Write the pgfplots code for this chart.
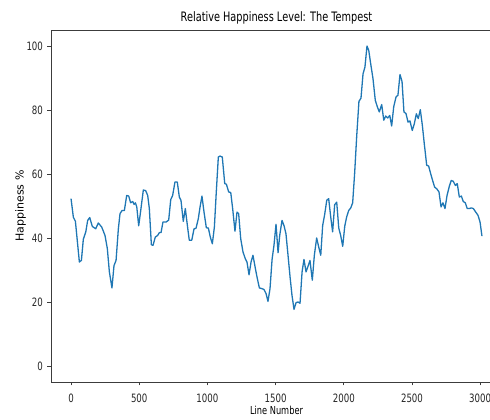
\documentclass[border=0pt]{standalone}
\usepackage{fontspec}
\usepackage{pgfplots}
\pgfplotsset{compat=1.18}
\setmainfont{DejaVu Sans}
\newfontfamily\sqz{DejaVu Sans}[FakeStretch=0.75]
\definecolor{mplblue}{RGB}{31,119,180}
\definecolor{spine}{RGB}{60,60,60}
\begin{document}
\begin{tikzpicture}
\begin{axis}[
  scale only axis,
  width=451pt, height=352pt,
  xmin=-147, xmax=3160,
  ymin=-5, ymax=105,
  xtick={0,500,1000,1500,2000,2500,3000},
  ytick={0,20,40,60,80,100},
  xtick pos=bottom, ytick pos=left,
  tick align=outside,
  major tick length=3.5pt,
  axis line style={spine, line width=0.8pt},
  every tick/.style={spine, line width=0.7pt},
  /pgf/number format/assume math mode=true,
  /pgf/number format/1000 sep={},
  ticklabel style={font=\sqz\fontsize{11.5}{13}\selectfont, text=black!85},
  xticklabel style={yshift=-5pt},
  yticklabel style={xshift=-1pt},
  title={Relative Happiness Level: The Tempest},
  title style={font=\sqz\fontsize{13}{15}\selectfont, at={(0.5,1)}, anchor=base, yshift=2pt},
  xlabel={Line Number},
  xlabel style={font=\sqz\fontsize{11}{13}\selectfont, at={(0.5,0)}, anchor=base, yshift=-33pt},
  ylabel={Happiness \%},
  ylabel style={font=\fontsize{11}{13}\selectfont, at={(axis description cs:-0.0676,0.5)}, anchor=center},
  clip=false,
]
\coordinate (sw) at (rel axis cs:0,0);
\coordinate (nw) at (rel axis cs:0,1);
\addplot[mplblue, line width=1.3pt, line join=round] coordinates {
(0,52.3) (17,46.5) (32,45.2) (61,32.5) (76,33) (90,39.6) (108,41.9) (122,45.5) (137,46.4) (156,43.6)
(181,42.9) (200,44.7) (225,43.4) (249,40.8) (266,36.7) (281,29.4) (300,24.4) (315,31.4) (330,33) (347,42.9)
(359,47.6) (374,48.6) (391,48.6) (408,53.3) (423,53.1) (437,51) (452,51.4) (462,50.5) (472,51) (482,49.7)
(496,43.8) (511,48.6) (530,55) (547,54.8) (562,53.3) (574,49.2) (589,37.9) (601,37.7) (618,40.3) (635,40.8)
(648,41.7) (660,41.7) (674,45) (697,45) (716,45.6) (731,52) (745,53.3) (762,57.5) (779,57.5) (794,52.8)
(806,51.8) (823,45.2) (838,49.2) (853,43.9) (867,39.3) (885,39.3) (902,42.9) (916,43) (933,46) (946,49.7)
(960,53.1) (975,48.1) (992,43.2) (1007,43.1) (1021,40.3) (1036,38.2) (1051,43.4) (1065,54.4) (1080,65.3) (1092,65.6)
(1109,65.3) (1127,57) (1139,56.8) (1156,54.4) (1171,54.2) (1185,49.2) (1202,42.1) (1217,48.1) (1229,47.6) (1244,39.8)
(1261,35.6) (1278,33.5) (1290,32.5) (1305,28.5) (1320,32.5) (1334,34.6) (1351,30.6) (1366,27.3) (1381,24.4) (1398,24.2)
(1415,23.9) (1430,22.6) (1444,20.2) (1459,24.2) (1474,33.3) (1488,37.7) (1503,44.3) (1518,35.4) (1530,40.8) (1547,45.5)
(1562,43.8) (1576,41.3) (1591,34.6) (1606,27.8) (1620,22.1) (1635,17.7) (1650,19.8) (1664,20) (1679,19.6) (1694,29.4)
(1708,33.3) (1723,29.4) (1738,31.2) (1752,33) (1769,26.8) (1784,34.6) (1801,40) (1816,37.2) (1831,34.6) (1845,43.9)
(1860,47.4) (1875,51.8) (1889,52.3) (1904,46.6) (1918,41.9) (1933,50.4) (1948,51.2) (1963,43.1) (1977,40.8) (1992,37.4)
(2007,43.7) (2021,46.6) (2036,48.6) (2051,49.4) (2065,51) (2080,60.6) (2095,72.1) (2111,82.7) (2126,83.7) (2141,91.3)
(2155,93.4) (2170,100) (2183,98.6) (2197,94.5) (2214,89.8) (2231,83) (2246,81) (2260,79.4) (2278,81.7) (2293,76.8)
(2307,78.1) (2322,77.5) (2337,78.3) (2351,75) (2366,81) (2383,84.1) (2397,84.6) (2412,91.1) (2427,88.9) (2441,79.4)
(2456,78.9) (2471,76.2) (2485,76.6) (2502,73.6) (2517,75.7) (2532,78.8) (2546,77.3) (2561,80.1) (2576,75.2) (2590,69.5)
(2608,62.7) (2622,62.5) (2637,60.1) (2651,58) (2666,55.9) (2681,55.4) (2698,54.4) (2713,49.7) (2727,51) (2742,49.2)
(2757,53.3) (2774,56.2) (2788,58) (2803,57.7) (2818,56.4) (2832,57) (2847,52.8) (2862,53.1) (2876,51.4) (2891,51)
(2905,49.2) (2920,49.2) (2935,49.4) (2950,49.2) (2964,48.3) (2984,47.1) (2999,45) (3013,40.6)
};
\end{axis}
\pgfresetboundingbox
\path ([xshift=-51pt,yshift=-38pt]sw) rectangle ([xshift=439pt,yshift=30pt]nw);
\end{tikzpicture}
\end{document}
